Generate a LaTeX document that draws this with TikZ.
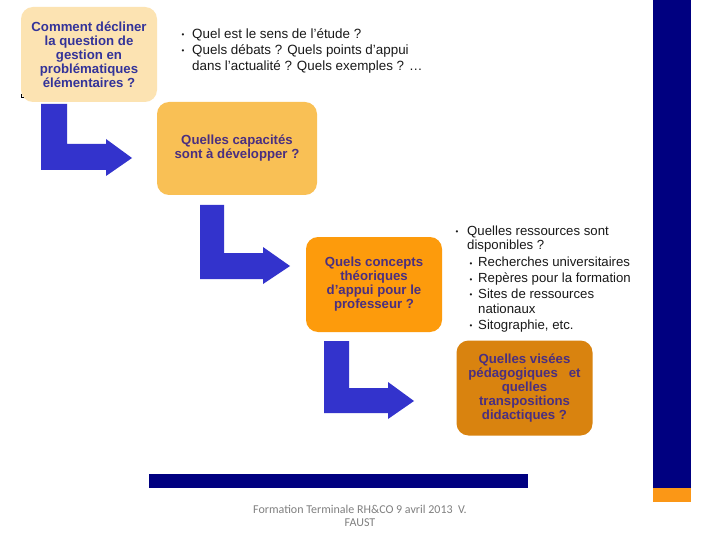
\documentclass[tikz,border=0pt]{standalone}
\usepackage{fontspec}
\setmainfont{Liberation Sans}
\newfontfamily\footfont{Carlito}
\definecolor{peach}{HTML}{FCE3B2}
\definecolor{lorange}{HTML}{F9C055}
\definecolor{morange}{HTML}{FD9B0C}
\definecolor{dorange}{HTML}{D9830F}
\definecolor{arrowblue}{HTML}{3333CC}
\definecolor{navybar}{HTML}{000080}
\definecolor{barorange}{HTML}{FB9716}
\definecolor{txtblue}{HTML}{333399}
\definecolor{txtpurple}{HTML}{4A2F80}
\definecolor{foot}{HTML}{808080}
\tikzset{
  qbox/.style={rounded corners=12pt, inner sep=0pt, minimum width=137pt, minimum height=95pt,
    align=center, font=\fontsize{13.2}{14}\selectfont\bfseries, text=txtpurple},
  blockarrow/.style={fill=arrowblue, draw=none},
  bul/.style={anchor=base west, inner sep=0pt, font=\fontsize{13.4}{14}\selectfont, text=black!90},
  rbul/.style={anchor=base west, inner sep=0pt, font=\fontsize{13.2}{14}\selectfont, text=black!90},
  dot/.style={anchor=base, inner sep=0pt, font=\fontsize{8}{10}\selectfont, text=black!90},
}
\begin{document}
\begin{tikzpicture}[x=1pt,y=-1pt]
\useasboundingbox (0,0) rectangle (720,540);
\fill[white] (0,0) rectangle (720,540);
% bars
\fill[navybar] (653,0) rectangle (691,488);
\fill[barorange] (653,488) rectangle (691,502);
\fill[navybar] (149,474) rectangle (528,488);
% boxes
\node[qbox, fill=peach, text=txtblue, minimum width=136pt] (b1) at (89,54.5)
  {Comment décliner\\la question de\\gestion en\\problématiques\\élémentaires ?};
\node[qbox, fill=lorange, minimum width=160pt, minimum height=93pt] (b2) at (237,148.5)
  {Quelles capacités\\sont à développer ?};
\node[qbox, fill=morange, minimum width=136pt] (b3) at (374,284.5)
  {Quels concepts\\théoriques\\d'appui pour le\\professeur ?};
\node[qbox, fill=dorange, minimum width=136pt] (b4) at (524.5,388)
  {Quelles visées\\pédagogiques\ \ \ et\\quelles\\transpositions\\didactiques ?};
% small corner mark
\draw[black, line width=0.8pt] (21.5,94) -- (21.5,97.5) -- (24,97.5);
% block arrows
\fill[blockarrow] (41,104) -- (67,104) -- (67,144) -- (106,144) -- (106,139) -- (132,158)
  -- (106,176) -- (106,170) -- (41,170) -- cycle;
\fill[blockarrow] (200,205) -- (224,205) -- (224,253) -- (263,253) -- (263,247) -- (290,266)
  -- (263,284) -- (263,279) -- (200,279) -- cycle;
\fill[blockarrow] (324,341) -- (349,341) -- (349,388) -- (388,388) -- (388,382) -- (414,401)
  -- (388,419) -- (388,413) -- (324,413) -- cycle;
% top bullets
\node[dot] (d1) at (183,38) {•};
\node[bul] (t1) at (192,38.5) {Quel est le sens de l'étude ?};
\node[dot] (d2) at (183,54) {•};
\node[bul] (t2) at (192,54.5) {Quels débats ? Quels points d'appui};
\node[bul] (t3) at (192,70.5) {dans l'actualité ? Quels exemples ? …};
% right bullets
\node[dot] (r0) at (457,235) {•};
\node[rbul] (s1) at (467,235.5) {Quelles ressources sont};
\node[rbul] (s2) at (467,249.5) {disponibles ?};
\node[dot] (r1) at (471,266) {•};
\node[rbul] (s3) at (478,266.5) {Recherches universitaires};
\node[dot] (r2) at (471,282) {•};
\node[rbul] (s4) at (478,282.5) {Repères pour la formation};
\node[dot] (r3) at (471,297.5) {•};
\node[rbul] (s5) at (478,298) {Sites de ressources};
\node[rbul] (s6) at (478,313) {nationaux};
\node[dot] (r4) at (471,328.5) {•};
\node[rbul] (s7) at (478,329) {Sitographie, etc.};
% footer
\node[font=\footfont\fontsize{12}{13}\selectfont, text=foot, align=center, inner sep=0pt] (ft) at (360,516)
  {Formation Terminale RH\&CO 9 avril 2013\ \ V.\\FAUST};
\end{tikzpicture}
\end{document}
